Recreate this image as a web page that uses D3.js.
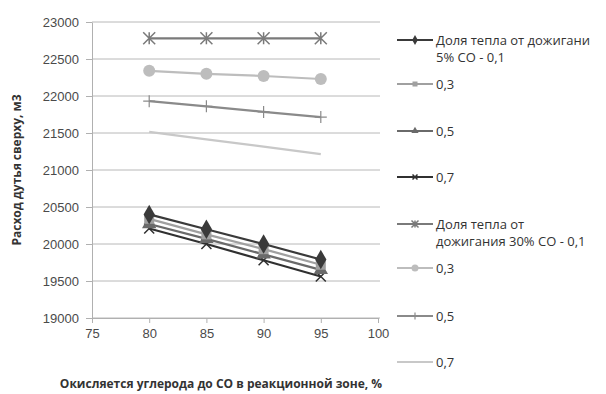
<!DOCTYPE html>
<html>
<head>
<meta charset="utf-8">
<script src="https://cdn.jsdelivr.net/npm/d3@7"></script>
<style>
  body { margin: 0; background: #fff; }
  svg { font-family: "Open Sans", "Noto Sans", sans-serif; }
</style>
</head>
<body>
<script>
const w = 606;
const h = 394;

// data
const xValues = [80, 85, 90, 95];
const yTicks = [19000, 19500, 20000, 20500, 21000, 21500, 22000, 22500, 23000];
const xTicks = [75, 80, 85, 90, 95, 100];

const s5_01 = [20400, 20200, 20000, 19790];
const s5_03 = [20340, 20130, 19930, 19720];
const s5_05 = [20270, 20070, 19860, 19650];
const s5_07 = [20210, 20000, 19780, 19560];
const s30_01 = [22780, 22780, 22780, 22780];
const s30_03 = [22340, 22300, 22270, 22230];
const s30_05 = [21930, 21860, 21785, 21715];
const s30_07 = [21515, 21415, 21315, 21215];

const legendLabels = [
  ["Доля тепла от дожигани", "5% CO - 0,1"],
  ["0,3"], ["0,5"], ["0,7"],
  ["Доля тепла от", "дожигания 30% CO - 0,1"],
  ["0,3"], ["0,5"], ["0,7"]
];

const series = [
  { values: s5_01, color: "#3a3a3a", marker: "diamond" },
  { values: s5_03, color: "#a0a0a0", marker: "square" },
  { values: s5_05, color: "#6a6a6a", marker: "triangle" },
  { values: s5_07, color: "#303030", marker: "x" },
  { values: s30_01, color: "#7a7a7a", marker: "star" },
  { values: s30_03, color: "#bdbdbd", marker: "circle" },
  { values: s30_05, color: "#8a8a8a", marker: "plus" },
  { values: s30_07, color: "#c8c8c8", marker: "none" }
];

const margin = { left: 92, right: 228, top: 22, bottom: 76 };

const x = d3.scaleLinear().domain([75, 100]).range([margin.left, w - margin.right]);
const y = d3.scaleLinear().domain([19000, 23000]).range([h - margin.bottom, margin.top]);

const svg = d3.select("body").append("svg").attr("width", w).attr("height", h);

// gridlines
svg.append("g")
  .selectAll("line")
  .data(yTicks)
  .enter()
  .append("line")
  .attr("x1", margin.left)
  .attr("x2", x(100) + 2)
  .attr("y1", d => y(d))
  .attr("y2", d => y(d))
  .attr("stroke", "#b8b8b8")
  .attr("stroke-width", 1);

const yAxis = svg.append("g")
  .attr("transform", "translate(" + margin.left + ",0)")
  .call(d3.axisLeft(y).tickValues(yTicks).tickFormat(d3.format("d")).tickSize(6).tickSizeOuter(0).tickPadding(7));

const xAxis = svg.append("g")
  .attr("transform", "translate(0," + y(19000) + ")")
  .call(d3.axisBottom(x).tickValues(xTicks).tickFormat(d3.format("d")).tickSize(5).tickSizeOuter(0).tickPadding(6));

[yAxis, xAxis].forEach(a => {
  a.select(".domain").attr("stroke", "#b0b0b0");
  a.selectAll(".tick line").attr("stroke", "#b0b0b0");
  a.selectAll(".tick text").attr("fill", "#4a4a4a").style("font-size", "13px");
});

// marker drawing
function drawMarker(g, type, color, size) {
  const s = size;
  if (type === "diamond") {
    g.append("path").attr("d", d3.symbol(d3.symbolDiamond, s * s * 1.1)()).attr("fill", color);
  } else if (type === "square") {
    g.append("rect").attr("x", -s / 2).attr("y", -s / 2).attr("width", s).attr("height", s).attr("fill", color);
  } else if (type === "triangle") {
    g.append("path").attr("d", d3.symbol(d3.symbolTriangle, s * s * 0.9)()).attr("fill", color);
  } else if (type === "circle") {
    g.append("circle").attr("r", s / 2 + 1).attr("fill", color);
  } else if (type === "x") {
    const r = s / 2;
    g.append("path").attr("d", `M${-r},${-r}L${r},${r}M${-r},${r}L${r},${-r}`).attr("stroke", color).attr("stroke-width", 1.5);
  } else if (type === "star") {
    const r = s / 2 + 1;
    g.append("path").attr("d", `M${-r},${-r}L${r},${r}M${-r},${r}L${r},${-r}M0,${-r}L0,${r}`).attr("stroke", color).attr("stroke-width", 1.5);
  } else if (type === "plus") {
    const r = s / 2 + 1;
    g.append("path").attr("d", `M${-r},0L${r},0M0,${-r}L0,${r}`).attr("stroke", color).attr("stroke-width", 1.2);
  }
}

const line = d3.line().x((d, i) => x(xValues[i])).y(d => y(d));

const plot = svg.append("g");
series.slice().reverse().forEach(s => {
  plot.append("path")
    .datum(s.values)
    .attr("d", line)
    .attr("fill", "none")
    .attr("stroke", s.color)
    .attr("stroke-width", 2.2);
  s.values.forEach((v, i) => {
    const g = plot.append("g").attr("transform", "translate(" + x(xValues[i]) + "," + y(v) + ")");
    drawMarker(g, s.marker, s.color, 10);
  });
});

// legend
const legendY = [40, 84, 131, 177, 224, 268, 316, 362];
const legend = svg.append("g").attr("transform", "translate(397,0)");
series.forEach((s, i) => {
  const g = legend.append("g").attr("transform", "translate(0," + legendY[i] + ")");
  g.append("line").attr("x1", 0).attr("x2", 36).attr("stroke", s.color).attr("stroke-width", 2.2);
  drawMarker(g.append("g").attr("transform", "translate(18,0)"), s.marker, s.color, 5);
  legendLabels[i].forEach((t, j) => {
    g.append("text")
      .attr("x", 39)
      .attr("y", j * 17)
      .attr("dy", "0.35em")
      .attr("fill", "#333")
      .style("font-size", "13px")
      .text(t);
  });
});

// axis titles
svg.append("text")
  .attr("transform", "translate(17," + (margin.top + y(19000)) / 2 + ") rotate(-90)")
  .attr("text-anchor", "middle")
  .attr("dy", "0.35em")
  .style("font-size", "12px")
  .style("font-weight", "bold")
  .attr("fill", "#333")
  .text("Расход дутья сверху, м3");

svg.append("text")
  .attr("x", 221)
  .attr("y", 384)
  .attr("text-anchor", "middle")
  .attr("dy", "0.35em")
  .style("font-size", "12px")
  .style("font-weight", "bold")
  .attr("fill", "#333")
  .text("Окисляется углерода до CO в реакционной зоне, %");
</script>
</body>
</html>
